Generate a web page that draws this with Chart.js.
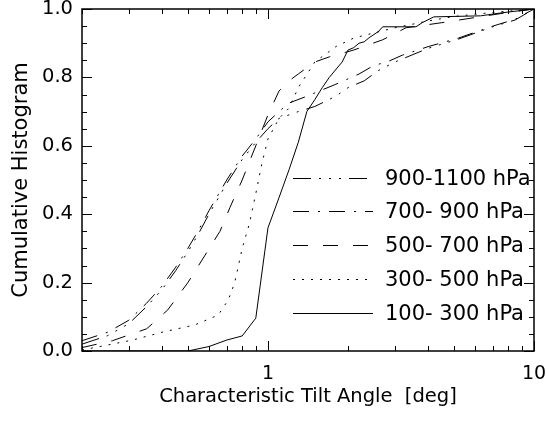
<!DOCTYPE html>
<html>
<head>
<meta charset="utf-8">
<script src="https://cdn.jsdelivr.net/npm/chart.js@4.4.1/dist/chart.umd.min.js"></script>
<style>
  html, body { margin: 0; padding: 0; background: #fff; }
  canvas { display: block; }
</style>
</head>
<body>
<canvas id="tiltChart" width="549" height="421"></canvas>
<script>
// layer names, bottom of the legend first
const layerNames = ['100- 300 hPa', '300- 500 hPa', '500- 700 hPa', '700- 900 hPa', '900-1100 hPa'];

// tilt angle (deg) and cumulative fraction
const angle100 = [0.2, 0.3, 0.4, 0.5, 0.6, 0.7, 0.8, 0.9, 1.0, 1.1, 1.2, 1.3, 1.4, 1.5, 1.6, 1.7, 1.9, 2.0, 2.1, 2.2, 2.3, 2.4, 2.6, 2.7, 3.6, 3.8, 4.2, 6.3, 7.6, 10];
const cum100   = [0, 0, 0, 0, 0.013, 0.032, 0.044, 0.096, 0.36, 0.448, 0.53, 0.61, 0.70, 0.735, 0.77, 0.80, 0.845, 0.88, 0.887, 0.90, 0.904, 0.916, 0.934, 0.948, 0.948, 0.96, 0.977, 0.98, 0.989, 1.0];

const angle300 = [0.2, 0.23, 0.31, 0.4, 0.53, 0.65, 0.71, 0.75, 0.8, 0.85, 0.9, 0.95, 1.0, 1.1, 1.2, 1.3, 1.5, 1.8, 2.1, 2.5, 3, 4, 5, 7, 10];
const cum300   = [0.003, 0.012, 0.032, 0.055, 0.076, 0.105, 0.15, 0.2, 0.3, 0.37, 0.46, 0.55, 0.62, 0.68, 0.71, 0.77, 0.845, 0.89, 0.915, 0.93, 0.945, 0.965, 0.978, 0.99, 1.0];

const angle500 = [0.2, 0.26, 0.35, 0.42, 0.5, 0.58, 0.66, 0.72, 0.8, 0.9, 1.0, 1.1, 1.2, 1.3, 1.5, 1.7, 2.1, 2.7, 3.3, 4.5, 6, 8, 10];
const cum500   = [0.01, 0.03, 0.065, 0.12, 0.2, 0.28, 0.35, 0.42, 0.5, 0.6, 0.69, 0.76, 0.79, 0.81, 0.845, 0.86, 0.88, 0.91, 0.945, 0.96, 0.975, 0.99, 1.0];

const angle700 = [0.2, 0.25, 0.3, 0.35, 0.4, 0.45, 0.5, 0.55, 0.6, 0.7, 0.8, 0.9, 1.0, 1.1, 1.2, 1.4, 1.8, 2.2, 2.5, 2.8, 3.2, 4, 5.2, 7, 8.5, 10];
const cum700   = [0.03, 0.055, 0.09, 0.14, 0.19, 0.245, 0.3, 0.355, 0.41, 0.5, 0.57, 0.62, 0.67, 0.70, 0.725, 0.745, 0.78, 0.81, 0.835, 0.845, 0.865, 0.89, 0.915, 0.95, 0.97, 1.0];

const angle900 = [0.2, 0.25, 0.3, 0.35, 0.4, 0.45, 0.5, 0.55, 0.6, 0.7, 0.8, 0.9, 1.0, 1.1, 1.3, 1.5, 1.8, 2.0, 2.3, 2.6, 3, 4, 5.2, 7, 8.5, 10];
const cum900   = [0.02, 0.045, 0.08, 0.13, 0.18, 0.235, 0.29, 0.345, 0.4, 0.49, 0.56, 0.61, 0.65, 0.68, 0.70, 0.715, 0.745, 0.77, 0.79, 0.82, 0.845, 0.885, 0.912, 0.948, 0.968, 1.0];

const xTickLabels = [1, 10];
const yTickLabels = ['0.0', '0.2', '0.4', '0.6', '0.8', '1.0'];

const textFont = 'DejaVu Sans';

function pairs(xs, ys) {
    return xs.map((x, i) => ({ x: x, y: ys[i] }));
}

// inward ticks on all four sides, like the original plot
const frame = {
    id: 'frame',
    afterDraw(chart) {
        const ctx = chart.ctx;
        const a = chart.chartArea;
        const xs = chart.scales.x;
        const ys = chart.scales.y;
        ctx.save();
        ctx.strokeStyle = '#000';
        ctx.lineWidth = 1;
        ctx.beginPath();
        for (let d = 0.1; d <= 1; d *= 10) {
            for (let k = 2; k <= 10; k++) {
                const v = d * k;
                if (v < 0.2 - 1e-9 || v > 10 + 1e-9) continue;
                const px = Math.round(xs.getPixelForValue(v)) + 0.5;
                const len = (k === 10) ? 10 : 5;
                ctx.moveTo(px, a.bottom); ctx.lineTo(px, a.bottom - len);
                ctx.moveTo(px, a.top); ctx.lineTo(px, a.top + len);
            }
        }
        for (let k = 0; k <= 20; k++) {
            const py = Math.round(ys.getPixelForValue(k * 0.05)) + 0.5;
            const len = (k % 4 === 0) ? 10 : 5;
            ctx.moveTo(a.left, py); ctx.lineTo(a.left + len, py);
            ctx.moveTo(a.right, py); ctx.lineTo(a.right - len, py);
        }
        ctx.stroke();
        ctx.lineWidth = 1.5;
        ctx.strokeRect(a.left, a.top, a.right - a.left, a.bottom - a.top);
        ctx.restore();
    }
};

// legend drawn inside the plot area, top entry = last dataset
const insideLegend = {
    id: 'insideLegend',
    afterDatasetsDraw(chart) {
        const ctx = chart.ctx;
        const a = chart.chartArea;
        const sets = chart.data.datasets.slice().reverse();
        ctx.save();
        ctx.font = '21px "' + textFont + '"';
        ctx.textBaseline = 'middle';
        ctx.fillStyle = '#000';
        sets.forEach((ds, i) => {
            const yy = Math.round(a.top + 168.5 + i * 33.8) + 0.5;
            ctx.strokeStyle = '#000';
            ctx.lineWidth = 1;
            ctx.setLineDash(ds.borderDash);
            ctx.beginPath();
            ctx.moveTo(a.left + 211, yy);
            ctx.lineTo(a.left + 291, yy);
            ctx.stroke();
            ctx.fillText(ds.label, a.left + 303, yy + 1);
        });
        ctx.restore();
    }
};

const dashes = [[], [2, 7], [15, 15], [16, 9, 2, 9], [18, 8, 2, 8, 2, 8, 2, 8]];
const series = [
    pairs(angle100, cum100),
    pairs(angle300, cum300),
    pairs(angle500, cum500),
    pairs(angle700, cum700),
    pairs(angle900, cum900)
];

new Chart(document.getElementById('tiltChart'), {
    type: 'scatter',
    data: {
        datasets: series.map((pts, i) => ({
            label: layerNames[i],
            data: pts,
            showLine: true,
            borderColor: '#000',
            borderWidth: 1,
            borderDash: dashes[i],
            pointRadius: 0,
            tension: 0
        }))
    },
    options: {
        responsive: false,
        animation: false,
        devicePixelRatio: 1,
        layout: { padding: { top: 9, right: 15, left: 0, bottom: 0 } },
        plugins: { legend: { display: false }, tooltip: { enabled: false } },
        scales: {
            x: {
                type: 'logarithmic',
                min: 0.2,
                max: 10,
                grid: { display: false, drawTicks: false },
                border: { display: false },
                afterBuildTicks: scale => {
                    scale.ticks = xTickLabels.map(v => ({ value: v }));
                },
                afterFit: scale => {
                    scale.height = 70;
                    scale.paddingLeft = 0;
                    scale.paddingRight = 0;
                },
                ticks: {
                    padding: 12,
                    color: '#000',
                    maxRotation: 0,
                    font: { family: textFont, size: 19 },
                    callback: v => String(v)
                },
                title: {
                    display: true,
                    text: 'Characteristic Tilt Angle  [deg]',
                    color: '#000',
                    font: { family: textFont, size: 19.5 },
                    padding: { top: 0, bottom: 12 }
                }
            },
            y: {
                min: 0,
                max: 1,
                grid: { display: false, drawTicks: false },
                border: { display: false },
                afterBuildTicks: scale => {
                    scale.ticks = yTickLabels.map(t => ({ value: parseFloat(t) }));
                },
                afterFit: scale => {
                    scale.width = 82;
                    scale.paddingTop = 0;
                    scale.paddingBottom = 0;
                },
                ticks: {
                    padding: 9,
                    color: '#000',
                    font: { family: textFont, size: 19.5 },
                    callback: v => yTickLabels.find(t => parseFloat(t) === v)
                },
                title: {
                    display: true,
                    text: 'Cumulative Histogram',
                    color: '#000',
                    font: { family: textFont, size: 21 },
                    padding: { top: 9, bottom: 0 }
                }
            }
        }
    },
    plugins: [frame, insideLegend]
});
</script>
</body>
</html>
